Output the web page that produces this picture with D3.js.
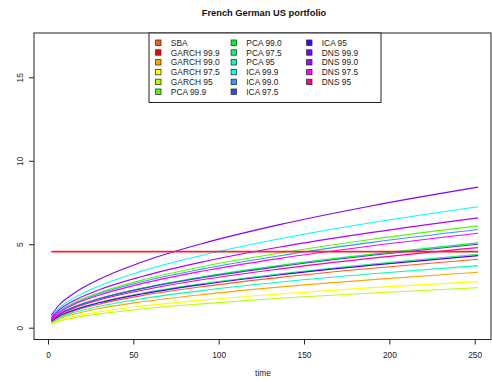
<!DOCTYPE html>
<html><head><meta charset="utf-8">
<script src="https://cdn.jsdelivr.net/npm/d3@7/dist/d3.min.js"></script>
<style>body{margin:0;background:#fff}svg{display:block}text{font-family:"Liberation Sans",Arial,sans-serif}</style>
</head><body><svg id="c" width="492" height="381"></svg>
<script>
const title = "French German US portfolio";
const xLabel = "time";
const xTicks = [0, 50, 100, 150, 200, 250];
const yTicks = [0, 5, 10, 15];
const horizons = [2, 6, 15, 30, 55, 90, 135, 190, 252];
const seriesNames = ["SBA","GARCH 99.9","GARCH 99.0","GARCH 97.5","GARCH 95","PCA 99.9","PCA 99.0","PCA 97.5","PCA 95","ICA 99.9","ICA 99.0","ICA 97.5","ICA 95","DNS 99.9","DNS 99.0","DNS 97.5","DNS 95"];
const seriesColors = ["#FF5A1E","#FF0000","#FFA500","#FFFF00","#B4FF00","#50FF00","#00FF20","#00FF70","#00FFB4","#00FFFF","#3399FF","#3344FF","#4400FF","#8000FF","#B000FF","#FF00FF","#FF0090"];
const sba       = [0.37,0.63,1.00,1.41,1.92,2.45,3.00,3.56,4.10];
const garch999  = [4.56,4.56,4.56,4.56,4.56,4.56,4.56,4.56,4.56];
const garch990  = [0.30,0.51,0.81,1.15,1.55,1.98,2.43,2.88,3.32];
const garch975  = [0.25,0.43,0.67,0.95,1.29,1.65,2.02,2.40,2.76];
const garch950  = [0.21,0.37,0.59,0.83,1.12,1.43,1.76,2.08,2.40];
const pca999    = [0.54,0.94,1.49,2.10,2.85,3.65,4.46,5.30,6.10];
const pca990    = [0.45,0.78,1.24,1.75,2.37,3.04,3.72,4.41,5.08];
const pca975    = [0.39,0.68,1.07,1.52,2.06,2.63,3.22,3.82,4.40];
const pca950    = [0.33,0.57,0.91,1.28,1.74,2.22,2.72,3.23,3.72];
const ica999    = [0.65,1.12,1.77,2.50,3.39,4.33,5.31,6.30,7.25];
const ica990    = [0.52,0.91,1.43,2.03,2.75,3.51,4.30,5.11,5.88];
const ica975    = [0.45,0.77,1.22,1.73,2.34,2.99,3.66,4.34,5.00];
const ica950    = [0.38,0.67,1.05,1.49,2.02,2.58,3.16,3.75,4.32];
const dns999    = [0.75,1.30,2.05,2.90,3.93,5.03,6.16,7.31,8.42];
const dns990    = [0.59,1.02,1.61,2.27,3.07,3.93,4.82,5.71,6.58];
const dns975    = [0.50,0.87,1.38,1.95,2.64,3.38,4.14,4.91,5.66];
const dns950    = [0.43,0.74,1.17,1.66,2.24,2.87,3.51,4.17,4.80];
const seriesValues = [sba,garch999,garch990,garch975,garch950,pca999,pca990,pca975,pca950,ica999,ica990,ica975,ica950,dns999,dns990,dns975,dns950];

const svg = d3.select("#c");
const box = {left:34, right:491, top:33, bottom:339.5};
const x = d3.scaleLinear().domain([0,250]).range([48,474.7]);
const y = d3.scaleLinear().domain([0,15]).range([327.7,77.3]);

// lines (flat GARCH 99.9 line drawn last, on top)
const line = d3.line().x((d,i)=>x(horizons[i])).y(d=>y(d)).curve(d3.curveMonotoneX);
const order = d3.range(seriesValues.length).filter(k=>k!==1).concat([1]);
order.forEach(k=>{
  svg.append("path").attr("d", line(seriesValues[k])).attr("fill","none")
    .attr("stroke", k===1 ? "#FF2020" : seriesColors[k]).attr("stroke-width", k===1 ? 1.7 : 1.1);
});

// frame
svg.append("rect").attr("x",box.left).attr("y",box.top)
  .attr("width",box.right-box.left).attr("height",box.bottom-box.top)
  .attr("fill","none").attr("stroke","#222").attr("stroke-width",1);

// x axis
const xa = svg.append("g").attr("transform",`translate(0,${box.bottom})`)
  .call(d3.axisBottom(x).tickValues(xTicks).tickSize(5).tickPadding(8).tickFormat(d3.format("d")));
xa.select(".domain").remove();
xa.selectAll("line").attr("stroke","#222");
xa.selectAll("text").attr("font-size","8.4px").attr("fill","#222").attr("font-family","Liberation Sans, Arial, sans-serif");

// y axis
const ya = svg.append("g").attr("transform",`translate(${box.left},0)`)
  .call(d3.axisLeft(y).tickValues(yTicks).tickSize(5).tickFormat(d3.format("d")));
ya.select(".domain").remove();
ya.selectAll("line").attr("stroke","#222");
ya.selectAll("text").attr("font-size","8.4px").attr("fill","#222")
  .attr("font-family","Liberation Sans, Arial, sans-serif")
  .attr("text-anchor","middle").attr("x",0).attr("dy",null)
  .attr("transform","translate(-14.5,0) rotate(-90)").attr("y",3);

// title & label
svg.append("text").attr("x",264).attr("y",15.5).attr("text-anchor","middle")
  .attr("font-size","9.3px").attr("font-weight","bold").attr("fill","#111").text(title);
svg.append("text").attr("x",263).attr("y",376).attr("text-anchor","middle")
  .attr("font-size","8.4px").attr("fill","#222").text(xLabel);

// legend
const lg = svg.append("g");
lg.append("rect").attr("x",149).attr("y",33).attr("width",232).attr("height",69.5)
  .attr("fill","#fff").attr("stroke","#222").attr("stroke-width",1);
seriesNames.forEach((name,i)=>{
  const col = Math.floor(i/6), row = i%6;
  const cx = 158.3 + col*75.5, cy = 42.7 + row*9.8;
  lg.append("rect").attr("x",cx-2.7).attr("y",cy-2.7).attr("width",5.4).attr("height",5.4)
    .attr("fill",seriesColors[i]).attr("stroke","#333").attr("stroke-width",0.8);
  lg.append("text").attr("x",cx+12.5).attr("y",cy+3).attr("font-size","8.4px").attr("fill","#222").text(name);
});
</script></body></html>
